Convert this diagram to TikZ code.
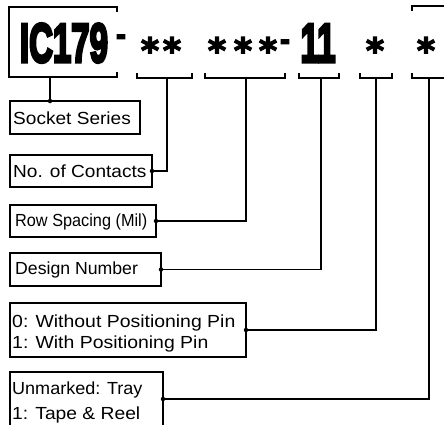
\documentclass[tikz,border=0pt]{standalone}
\usepackage{fontspec}
\usepackage{graphicx}
\setmainfont{Liberation Sans}
\newfontfamily\heavyfont[FakeBold=6]{Liberation Sans Bold}
\newfontfamily\starfont[FakeBold=3.5]{DejaVu Sans Bold}
\newcommand\sx[2]{\scalebox{#1}[1]{#2}}
\begin{document}
\begin{tikzpicture}[x=1pt,y=-1pt,
  ln/.style={line width=1.6pt},
  box/.style={draw, line width=1.6pt, inner sep=0pt, outer sep=0pt, anchor=north west},
  lbl/.style={anchor=base west, inner sep=0pt, font=\fontsize{17.5}{20}\selectfont},
  big/.style={anchor=base, inner sep=0pt, font=\fontsize{55}{60}\heavyfont},
  star/.style={anchor=base, inner sep=0pt, font=\fontsize{35}{38}\starfont},
  hy/.style={anchor=base, inner sep=0pt, font=\fontsize{28}{30}\heavyfont},
  jdot/.style={circle, fill, inner sep=0pt, minimum size=4.5pt}]
\useasboundingbox (0,0) rectangle (444,424);
% header text
\node[big] (ic) at (64,62) {\sx{0.6}{IC179}};
\node[hy] (h1) at (121,44) {-};
\node[star] (a1) at (150,63) {*};
\node[star] (a2) at (172,63) {*};
\node[star] (a3) at (217,63) {*};
\node[star] (a4) at (243,63) {*};
\node[star] (a5) at (268,63) {*};
\node[hy] (h2) at (285,49) {-};
\node[big] (n11) at (318,62) {\sx{0.6}{11}};
\node[star] (a6) at (375,63) {*};
\node[star] (a7) at (426,63) {*};
% brackets
\draw[ln] (117,12) -- (117,7) -- (9,7) -- (9,77) -- (117,77) -- (117,72);
\draw[ln] (137,73) -- (137,78) -- (192,78) -- (192,73);
\draw[ln] (205,73) -- (205,78) -- (285,78) -- (285,73);
\draw[ln] (299,73) -- (299,78) -- (339,78) -- (339,73);
\draw[ln] (360,73) -- (360,78) -- (392,78) -- (392,73);
\draw[ln] (412,73) -- (412,78) -- (450,78);
\draw[ln] (412,11) -- (412,6) -- (450,6);
\coordinate (s1) at (50,77);
\coordinate (s2) at (167,78);
\coordinate (s3) at (246,78);
\coordinate (s4) at (321,78);
\coordinate (s5) at (376,78);
\coordinate (s6) at (429,78);
% boxes
\node[box, minimum width=130pt, minimum height=33pt] (b1) at (10,101) {};
\node[box, minimum width=142pt, minimum height=32pt] (b2) at (10,155) {};
\node[box, minimum width=146pt, minimum height=32pt] (b3) at (10,205) {};
\node[box, minimum width=151pt, minimum height=33pt] (b4) at (10,253) {};
\node[box, minimum width=236pt, minimum height=54pt] (b5) at (10,303) {};
\node[box, minimum width=153pt, minimum height=54pt] (b6) at (10,372) {};
% labels
\node[lbl] (t1) at (13,124) {\sx{1.09}{Socket Series}};
\node[lbl] (t2) at (13,177) {\sx{1.09}{No. of Contacts}};
\node[lbl] (t3) at (15,226) {\sx{0.93}{Row Spacing (Mil)}};
\node[lbl] (t4) at (15,274) {\sx{1.01}{Design Number}};
\node[lbl] (t5a) at (12,327) {\sx{1.11}{0: Without Positioning Pin}};
\node[lbl] (t5b) at (12,348) {\sx{1.11}{1: With Positioning Pin}};
\node[lbl] (t6a) at (12,394) {\sx{1.03}{Unmarked: Tray}};
\node[lbl] (t6b) at (12,419) {\sx{1.10}{1: Tape \& Reel}};
% connectors
\draw[ln] (s1) -- (s1 |- b1.north);
\draw[ln] (s2) |- (b2.east);
\draw[ln] (s3) |- (b3.east);
\draw[ln] (s4) |- (b4.east);
\draw[ln] (s5) |- (b5.east);
\draw[ln] (s6) |- (b6.east);
\node[jdot] at (s1 |- b1.north) {};
\node[jdot] at (b2.east) {};
\node[jdot] at (b3.east) {};
\node[jdot] at (b4.east) {};
\node[jdot] at (b5.east) {};
\node[jdot] at (b6.east) {};
\end{tikzpicture}
\end{document}
